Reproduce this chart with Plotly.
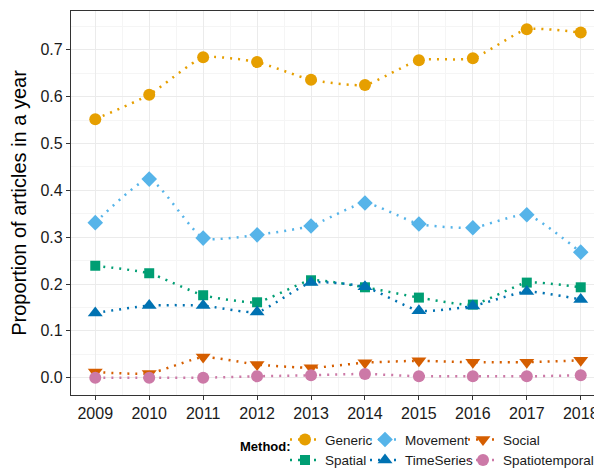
import plotly.graph_objects as go

years = [2009, 2010, 2011, 2012, 2013, 2014, 2015, 2016, 2017, 2018]
generic = [0.552, 0.604, 0.684, 0.674, 0.636, 0.625, 0.678, 0.682, 0.744, 0.737]
movement = [0.331, 0.424, 0.298, 0.305, 0.324, 0.373, 0.328, 0.320, 0.348, 0.268]
social = [0.012, 0.009, 0.044, 0.028, 0.021, 0.032, 0.036, 0.033, 0.033, 0.037]
spatial = [0.239, 0.223, 0.176, 0.161, 0.208, 0.193, 0.171, 0.156, 0.203, 0.193]
timeseries = [0.138, 0.154, 0.154, 0.140, 0.203, 0.194, 0.143, 0.153, 0.184, 0.167]
spatiotemporal = [0.000, 0.000, 0.000, 0.003, 0.005, 0.008, 0.003, 0.003, 0.003, 0.005]

series = [
    ("Generic", generic, "#E69F00", "circle", "legend"),
    ("Spatial", spatial, "#009E73", "square", "legend"),
    ("Movement", movement, "#56B4E9", "diamond", "legend2"),
    ("TimeSeries", timeseries, "#0072B2", "triangle-up", "legend2"),
    ("Social", social, "#D55E00", "triangle-down", "legend3"),
    ("Spatiotemporal", spatiotemporal, "#CC79A7", "circle", "legend3"),
]
sizes = {"circle": 12, "square": 10, "diamond": 12, "triangle-up": 13, "triangle-down": 13}

fig = go.Figure()
for name, vals, col, sym, lg in series:
    fig.add_trace(go.Scatter(
        x=years, y=vals, name=name, mode="lines+markers",
        line=dict(color=col, width=2.5, dash="2px,6px", shape="spline", smoothing=0.5),
        marker=dict(color=col, symbol=sym, size=sizes[sym]),
        legend=lg,
    ))

W, H = 602, 471
L, R, T, B = 63, 597, 3, 398
def px(x):
    return (x - L) / (R - L)
def py(y):
    return (B - y) / (B - T)

FONT = "Liberation Sans, Arial, sans-serif"
leg_common = dict(orientation="v", xanchor="left", yanchor="top", tracegroupgap=0,
                  font=dict(family=FONT, size=13.5, color="#1A1A1A"), bgcolor="rgba(0,0,0,0)",
                  itemwidth=30)
fig.update_layout(
    width=W, height=H,
    margin=dict(l=L, r=W - R, t=T, b=H - B),
    paper_bgcolor="white", plot_bgcolor="white",
    font=dict(family=FONT, size=13, color="black"),
    legend=dict(x=px(277), y=py(428), **leg_common),
    legend2=dict(x=px(357), y=py(428), **leg_common),
    legend3=dict(x=px(455), y=py(428), **leg_common),
    xaxis=dict(
        range=[2008.55, 2018.45], tickmode="array", tickvals=years,
        ticktext=[str(y) for y in years],
        showgrid=True, gridcolor="#EBEBEB", gridwidth=1,
        minor=dict(dtick=0.5, tick0=2008.5, showgrid=True, gridcolor="#F5F5F5", gridwidth=0.5),
        ticks="outside", ticklen=4, tickcolor="#333333",
        tickfont=dict(size=16, color="#1A1A1A"),
        showline=True, linecolor="#333333", linewidth=1.2, mirror=True, zeroline=False,
    ),
    yaxis=dict(
        range=[-0.037, 0.783], tickmode="array", tickvals=[0, 0.1, 0.2, 0.3, 0.4, 0.5, 0.6, 0.7],
        ticktext=["0.0", "0.1", "0.2", "0.3", "0.4", "0.5", "0.6", "0.7"],
        showgrid=True, gridcolor="#EBEBEB", gridwidth=1,
        minor=dict(tickvals=[0.05, 0.15, 0.25, 0.35, 0.45, 0.55, 0.65, 0.75], showgrid=True, gridcolor="#F5F5F5", gridwidth=0.5),
        ticks="outside", ticklen=4, tickcolor="#333333",
        tickfont=dict(size=16, color="#1A1A1A"),
        showline=True, linecolor="#333333", linewidth=1.2, mirror=True, zeroline=False,
        title=dict(text="Proportion of articles in a year", font=dict(size=20, color="black"), standoff=8),
    ),
    annotations=[dict(text="<b>Method:</b>", x=px(230), y=py(451), xref="paper", yref="paper",
                      xanchor="left", yanchor="middle", showarrow=False,
                      font=dict(family=FONT, size=13, color="black"))],
)
fig.write_html("out.html")
